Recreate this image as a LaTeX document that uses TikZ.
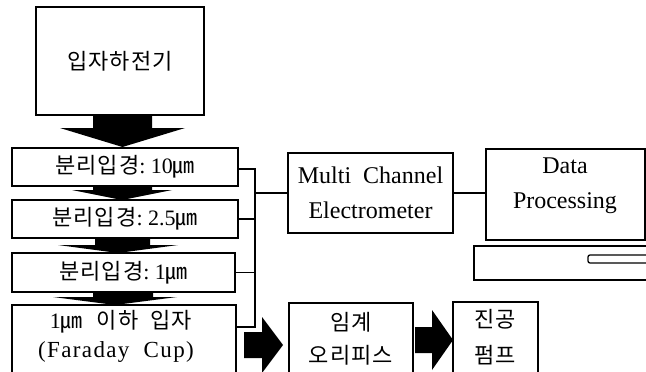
\documentclass[tikz,border=0pt]{standalone}
\usepackage{fontspec}
\setmainfont{Liberation Serif}
\newfontfamily\latsp[LetterSpace=6]{Liberation Serif}
\newfontfamily\krZ{Noto Sans CJK KR}
\newfontfamily\krA[LetterSpace=5]{Noto Sans CJK KR}
\begin{document}
\begin{tikzpicture}[x=1pt,y=-1pt,
  box/.style={draw,line width=1.6pt,inner sep=0pt,align=center},
  wire/.style={line width=1.3pt},
  blockarrow/.style={fill=black},
  kr/.style={font=\fontsize{22}{33}\selectfont\krA},
  lat/.style={font=\fontsize{24}{35}\selectfont,align=center}]
\useasboundingbox (0,0) rectangle (646,372);
% left column
\node[box,minimum width=168pt,minimum height=108pt,font=\fontsize{22}{33}\selectfont\krA] (charger) at (120,61) {입자하전기};
\node[box,minimum width=226pt,minimum height=38pt,font=\fontsize{22}{33}\selectfont] (s1) at (125,167) {{\krA 분리입경}:\ 10{\krZ ㎛}};
\node[box,minimum width=226pt,minimum height=38pt,font=\fontsize{22}{33}\selectfont] (s2) at (125,219) {{\krA 분리입경}:\ 2.5{\krZ ㎛}};
\node[box,minimum width=223pt,minimum height=39pt,font=\fontsize{22}{33}\selectfont] (s3) at (123.5,272.5) {{\krA 분리입경}:\ 1{\krZ ㎛}};
\node[box,minimum width=224pt,minimum height=78pt] (s4) at (124,344) {};
\node[font=\fontsize{22}{33}\selectfont] (s4a) at (121,322) {1{\krZ ㎛}\hspace{14pt}{\krA 이하}\hspace{12pt}{\krA 입자}};
\node[font=\fontsize{23}{30}\selectfont\latsp] (s4b) at (116,352) {(Faraday\ \ Cup)};
% block arrows down
\fill[blockarrow] (93,115) -- (152,115) -- (152,128) -- (185,128) -- (122.5,147) -- (60,128) -- (93,128) -- cycle;
\fill[blockarrow] (93,186) -- (152,186) -- (152,190) -- (172,190) -- (122,200) -- (72,190) -- (93,190) -- cycle;
\fill[blockarrow] (95,238) -- (150,238) -- (150,245) -- (178,245) -- (118,253) -- (58,245) -- (95,245) -- cycle;
\fill[blockarrow] (93,292) -- (153,292) -- (153,297) -- (177,297) -- (115,305) -- (53,297) -- (93,297) -- cycle;
% electrometer and data processing
\node[box,lat,minimum width=165pt,minimum height=80pt] (mc) at (370.5,193) {Multi\ \ Channel\\Electrometer};
\node[box,minimum width=159pt,minimum height=91pt] (dp) at (565.5,194.5) {};
\node[lat] (dpt) at (565,185.5) {Data\\Processing};
\draw[line width=1.6pt] (650,246) -- (474,246) -- (474,280) -- (650,280);
\draw[line width=1.3pt,rounded corners=2pt] (650,255) -- (588,255) -- (588,263) -- (650,263);
% bus
\coordinate (bus1) at (255,169);
\coordinate (bus4) at (255,327);
\draw[wire] (s1.east |- bus1) -- (bus1) -- (bus4) -- (s4.east |- bus4);
\draw[wire] (s2.east) -- (s2.east -| bus1);
\draw[wire] (s3.east) -- (s3.east -| bus1);
\draw[wire] (mc.west -| bus1) -- (mc.west);
\draw[wire] (mc.east) -- (mc.east -| dp.west);
% bottom right
\node[box,minimum width=124pt,minimum height=80pt] (orf) at (351,343) {};
\node[kr] (orft) at (351,322) {임계};
\node[kr] (orfb) at (351,355) {오리피스};
\node[box,minimum width=85pt,minimum height=80pt] (pump) at (495.5,342) {};
\node[kr] (pumpt) at (495,319) {진공};
\node[kr] (pumpb) at (495,355) {펌프};
\fill[blockarrow] (244,332) -- (262,332) -- (262,317) -- (283,345) -- (262,373) -- (262,358) -- (244,358) -- cycle;
\fill[blockarrow] (415,327) -- (432,327) -- (432,310) -- (453,340) -- (432,370) -- (432,353) -- (415,353) -- cycle;
\end{tikzpicture}
\end{document}
